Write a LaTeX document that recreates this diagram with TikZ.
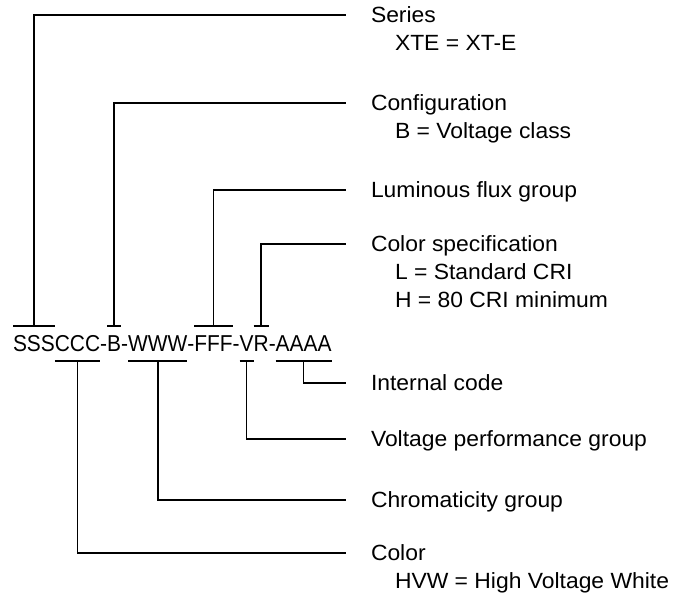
\documentclass[tikz,border=0pt]{standalone}
\usepackage{fontspec}
\setmainfont{Liberation Sans}
\newfontfamily\codefont[FakeStretch=0.91]{Liberation Sans}
\newfontfamily\labelfont[FakeStretch=1.04]{Liberation Sans}
\usepackage{tikz}

\tikzset{
	seg/.style={inner sep=0pt, outer sep=0pt, anchor=base west, text height=17pt, text depth=0pt, font=\codefont\fontsize{23}{27}\selectfont},
	lbl/.style={inner sep=0pt, outer sep=0pt, anchor=west, text height=15pt, text depth=0pt, font=\labelfont\fontsize{22}{26}\selectfont},
	lead/.style={black, line width=1.6pt}
}

\begin{document}
\begin{tikzpicture}[x=1pt,y=1pt]
				\useasboundingbox (0,0) rectangle (684,-601);

				% the part number
				\node[seg] (sss) at (13,-351) {SSS};
				\node[seg] (ccc) at (sss.base east) {CCC};
				\node[seg] (d1) at (ccc.base east) {-};
				\node[seg] (b) at (d1.base east) {B};
				\node[seg] (d2) at (b.base east) {-};
				\node[seg] (www) at (d2.base east) {WWW};
				\node[seg] (d3) at (www.base east) {-};
				\node[seg] (fff) at (d3.base east) {FFF};
				\node[seg] (d4) at (fff.base east) {-};
				\node[seg] (v) at (d4.base east) {V};
				\node[seg] (r) at (v.base east) {R};
				\node[seg] (d5) at (r.base east) {-};
				\node[seg] (aaaa) at (d5.base east) {AAAA};

				% labels
				\node[lbl] (series) at (371,-15) {Series};
				\node[lbl] (seriesval) at (395,-43) {XTE = XT-E};
				\node[lbl] (config) at (371,-103) {Configuration};
				\node[lbl] (configval) at (395,-131) {B = Voltage class};
				\node[lbl] (flux) at (371,-190) {Luminous flux group};
				\node[lbl] (spec) at (371,-244) {Color specification};
				\node[lbl] (specl) at (395,-272) {L = Standard CRI};
				\node[lbl] (spech) at (395,-300) {H = 80 CRI minimum};
				\node[lbl] (internal) at (371,-383) {Internal code};
				\node[lbl] (vperf) at (371,-439) {Voltage performance group};
				\node[lbl] (chroma) at (371,-500) {Chromaticity group};
				\node[lbl] (color) at (371,-553) {Color};
				\node[lbl] (colorval) at (395,-581) {HVW = High Voltage White};

				% leaders above
				\draw[lead] ([yshift=8pt]sss.north west) -- ([yshift=8pt]sss.north east);
				\draw[lead] ([yshift=8pt]sss.north) |- ([xshift=-25pt]series.west);
				\draw[lead] ([yshift=8pt]b.north west) -- ([yshift=8pt]b.north east);
				\draw[lead] ([yshift=8pt]b.north) |- ([xshift=-25pt]config.west);
				\draw[lead] ([yshift=8pt]fff.north west) -- ([yshift=8pt]fff.north east);
				\draw[lead] ([yshift=8pt]fff.north) |- ([xshift=-25pt]flux.west);
				\draw[lead] ([yshift=8pt]r.north west) -- ([yshift=8pt]r.north east);
				\draw[lead] ([yshift=8pt]r.north) |- ([xshift=-25pt]spec.west);

				% leaders below
				\draw[lead] ([yshift=-10pt]aaaa.south west) -- ([yshift=-10pt]aaaa.south east);
				\draw[lead] ([yshift=-10pt]aaaa.south) |- ([xshift=-25pt]internal.west);
				\draw[lead] ([yshift=-10pt]v.south west) -- ([yshift=-10pt]v.south east);
				\draw[lead] ([yshift=-10pt]v.south) |- ([xshift=-25pt]vperf.west);
				\draw[lead] ([yshift=-10pt]www.south west) -- ([yshift=-10pt]www.south east);
				\draw[lead] ([yshift=-10pt]www.south) |- ([xshift=-25pt]chroma.west);
				\draw[lead] ([yshift=-10pt]ccc.south west) -- ([yshift=-10pt]ccc.south east);
				\draw[lead] ([yshift=-10pt]ccc.south) |- ([xshift=-25pt]color.west);
			\end{tikzpicture}
\end{document}
